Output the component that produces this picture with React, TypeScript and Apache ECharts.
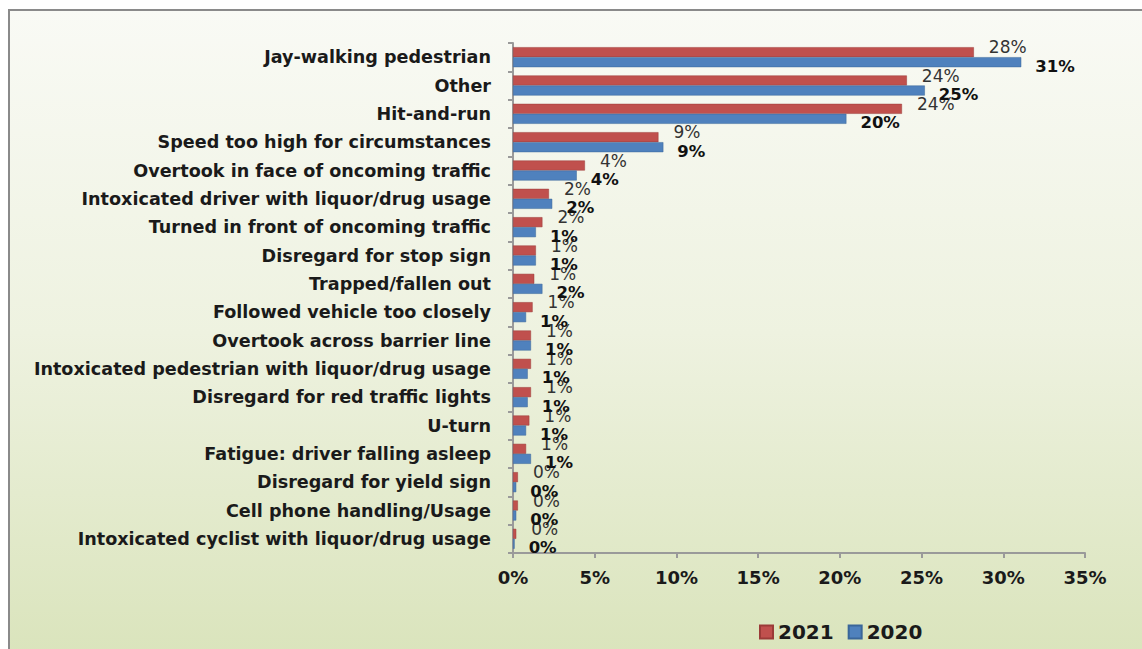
import React, { useEffect, useRef } from "react";
import * as echarts from "echarts";

const categories = [
  "Jay-walking pedestrian",
  "Other",
  "Hit-and-run",
  "Speed too high for circumstances",
  "Overtook in face of oncoming traffic",
  "Intoxicated driver with liquor/drug usage",
  "Turned in front of oncoming traffic",
  "Disregard for stop sign",
  "Trapped/fallen out",
  "Followed vehicle too closely",
  "Overtook across barrier line",
  "Intoxicated pedestrian with liquor/drug usage",
  "Disregard for red traffic lights",
  "U-turn",
  "Fatigue: driver falling asleep",
  "Disregard for yield sign",
  "Cell phone handling/Usage",
  "Intoxicated cyclist with liquor/drug usage",
];

const values2021 = [28.2, 24.1, 23.8, 8.9, 4.4, 2.2, 1.8, 1.4, 1.3, 1.2, 1.1, 1.1, 1.1, 1.0, 0.8, 0.3, 0.3, 0.2];
const values2020 = [31.1, 25.2, 20.4, 9.2, 3.9, 2.4, 1.4, 1.4, 1.8, 0.8, 1.1, 0.9, 0.9, 0.8, 1.1, 0.2, 0.2, 0.1];

const seriesNames = ["2021", "2020"];
const xTicks = { min: 0, max: 35, interval: 5 };

const FONT = "DejaVu Sans";

export default function App() {
  const ref = useRef<HTMLDivElement>(null);
  useEffect(() => {
    if (!ref.current) return;
    const chart = echarts.init(ref.current, null, { renderer: "svg" });
    const pct = (p: any) => Math.round(p.value) + "%";
    chart.setOption({
      animation: false,
      backgroundColor: "#ffffff",
      graphic: [
        {
          type: "rect",
          z: -10,
          silent: true,
          shape: { x: 9, y: 10, width: 1140, height: 645 },
          style: {
            fill: new echarts.graphic.LinearGradient(0, 0, 0, 1, [
              { offset: 0, color: "#f9faf5" },
              { offset: 0.5, color: "#eef2e0" },
              { offset: 1, color: "#dae4bc" },
            ]),
            stroke: "#8a8a8a",
            lineWidth: 2,
          },
        },
      ],
      grid: { left: 513, right: 57, top: 43, bottom: 96, containLabel: false },
      legend: {
        data: seriesNames,
        left: 754,
        top: 617,
        icon: "rect",
        itemWidth: 13,
        itemHeight: 13,
        itemGap: 14,
        textStyle: { fontFamily: FONT, fontWeight: "bold", fontSize: 20, color: "#1a1a1a" },
      },
      xAxis: {
        type: "value",
        min: xTicks.min,
        max: xTicks.max,
        interval: xTicks.interval,
        axisLine: { show: true, lineStyle: { color: "#9a9a9a", width: 2 } },
        axisTick: { show: true, length: 5, lineStyle: { color: "#9a9a9a", width: 2 } },
        splitLine: { show: false },
        axisLabel: {
          formatter: "{value}%",
          fontFamily: FONT,
          fontWeight: "bold",
          fontSize: 18,
          color: "#1a1a1a",
          margin: 15,
        },
      },
      yAxis: {
        type: "category",
        data: categories,
        inverse: true,
        axisLine: { show: true, lineStyle: { color: "#9a9a9a", width: 2 } },
        axisTick: { show: true, length: 5, lineStyle: { color: "#9a9a9a", width: 2 } },
        axisLabel: {
          fontFamily: FONT,
          fontWeight: "bold",
          fontSize: 17.6,
          color: "#1a1a1a",
          margin: 22,
        },
      },
      series: [
        {
          name: seriesNames[0],
          type: "bar",
          data: values2021,
          barWidth: 10,
          barGap: "0%",
          itemStyle: { color: "#c0504d", borderColor: "#9b3b38", borderWidth: 0.5 },
          label: {
            show: true,
            position: "right",
            offset: [10, -5],
            formatter: pct,
            fontFamily: FONT,
            fontSize: 17,
            color: "#333333",
          },
        },
        {
          name: seriesNames[1],
          type: "bar",
          data: values2020,
          barWidth: 10,
          barGap: "0%",
          itemStyle: { color: "#4f81bd", borderColor: "#3a6699", borderWidth: 0.5 },
          label: {
            show: true,
            position: "right",
            offset: [9, 4],
            formatter: pct,
            fontFamily: FONT,
            fontWeight: "bold",
            fontSize: 16.5,
            color: "#111111",
          },
        },
      ],
    });
    return () => chart.dispose();
  }, []);
  return (
    <div
      ref={ref}
      style={{ position: "fixed", left: 0, top: 0, width: 1142, height: 649 }}
    />
  );
}
